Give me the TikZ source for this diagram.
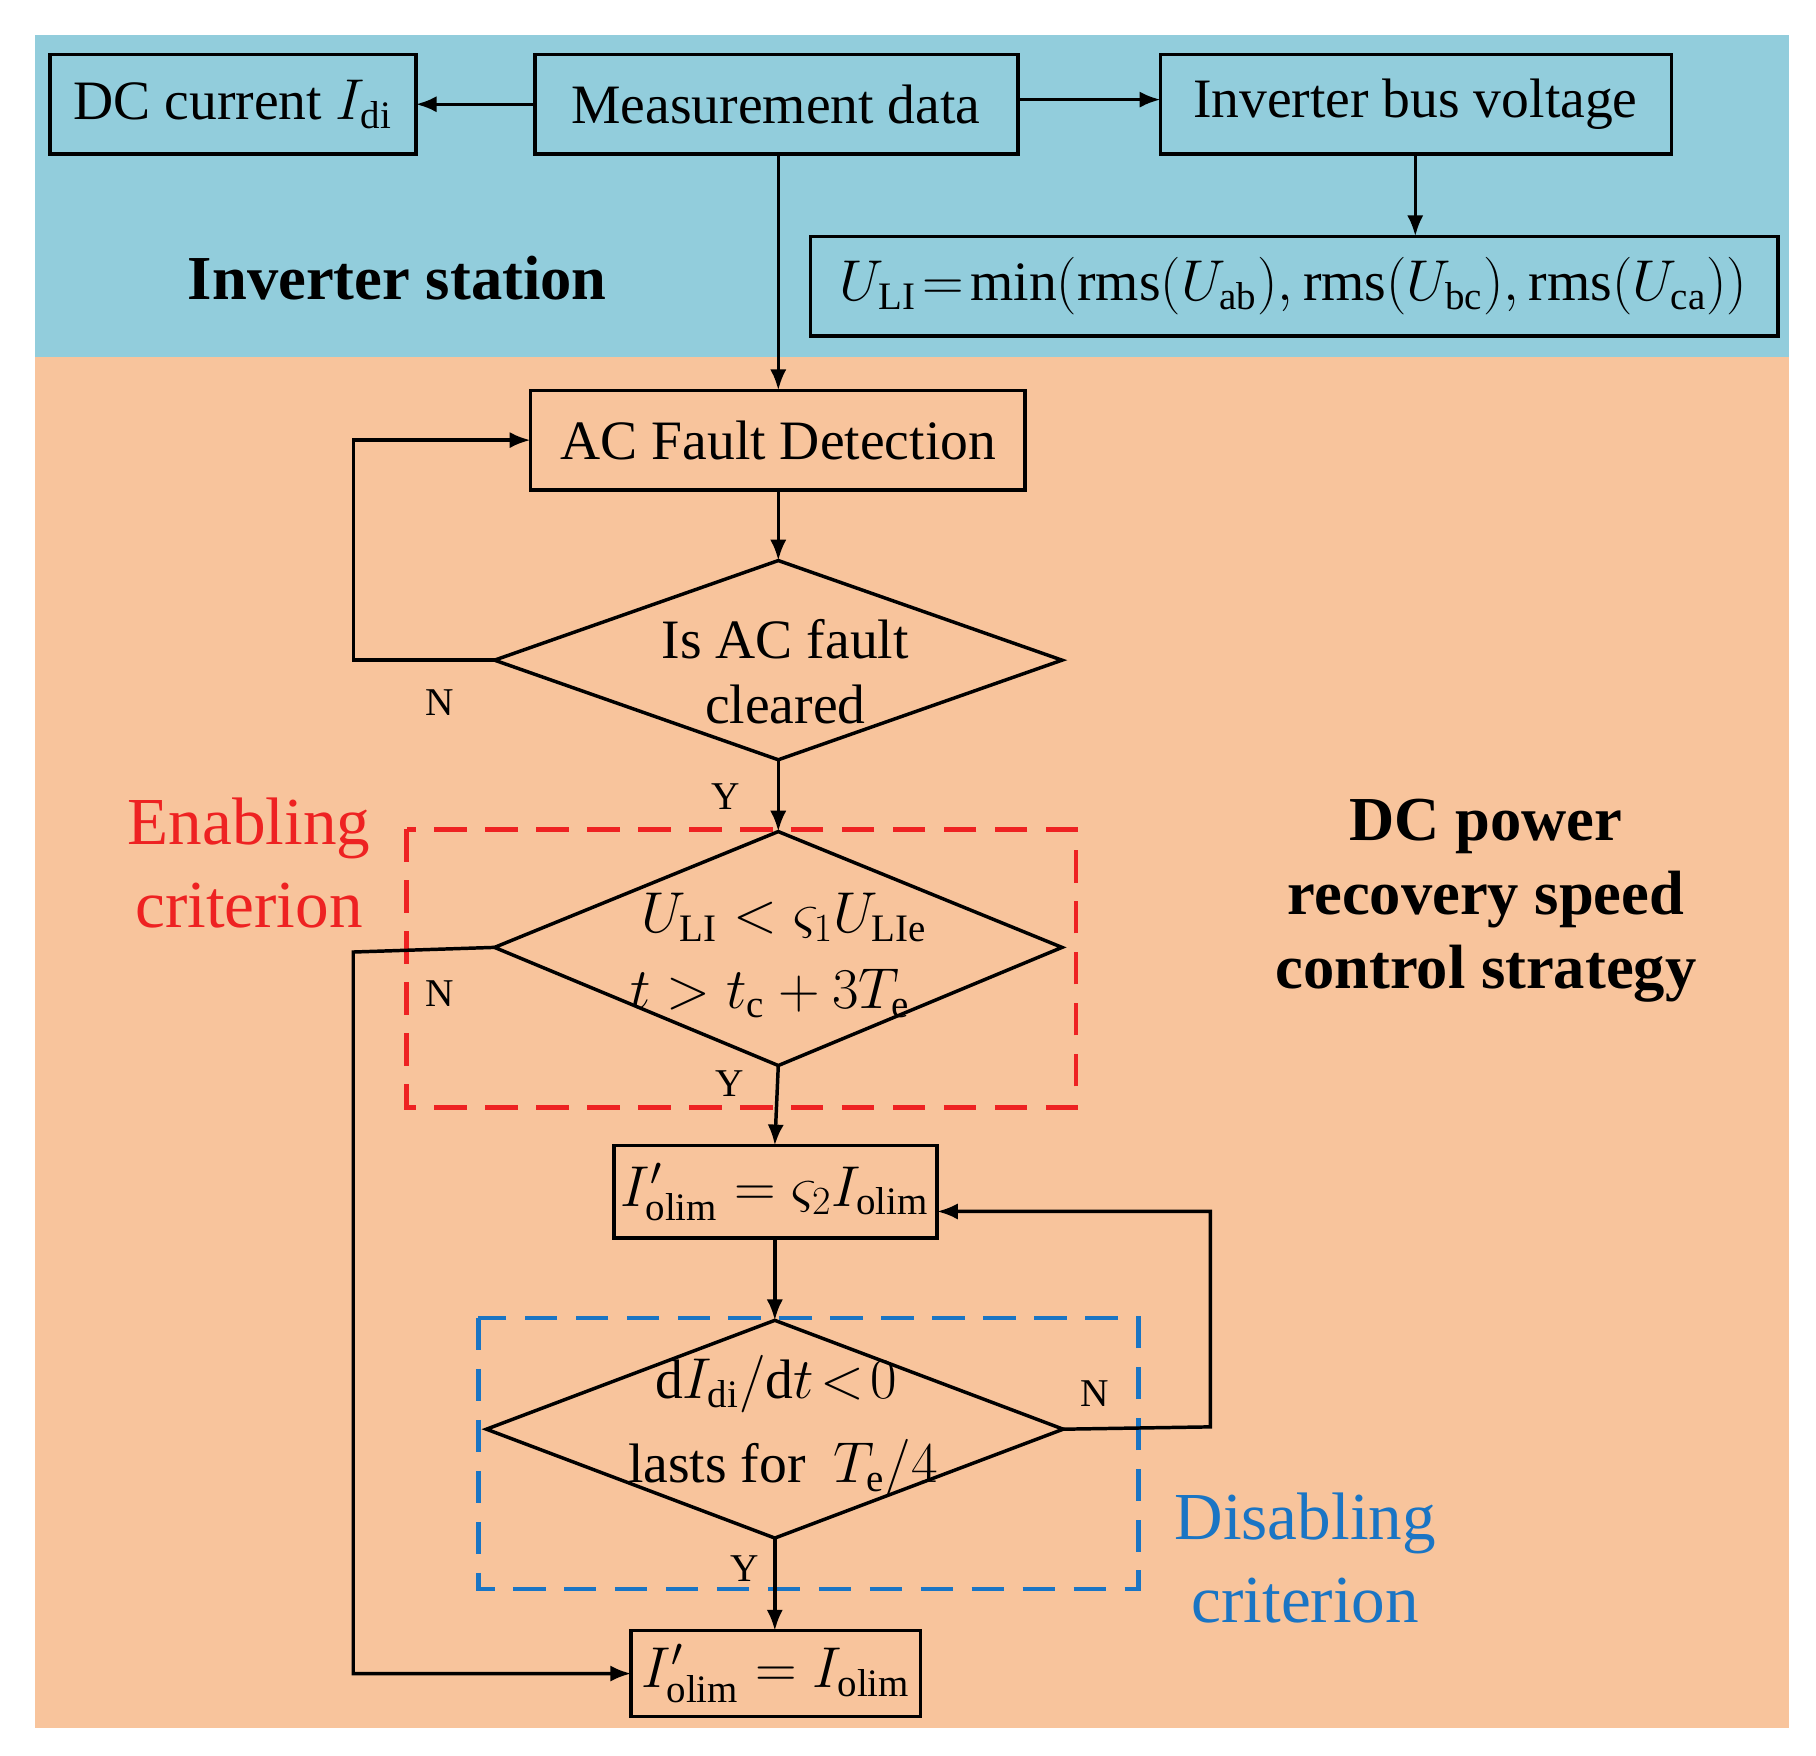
\documentclass[tikz,border=0pt]{standalone}
\usepackage{fontspec}
\setmainfont{Liberation Serif}
\usetikzlibrary{arrows.meta}
\definecolor{bgblue}{HTML}{92CDDC}
\definecolor{bgor}{HTML}{F8C49C}
\definecolor{dred}{HTML}{EE2222}
\definecolor{dblue}{HTML}{1A75C4}
\newcommand{\rmsub}[1]{_{\mathrm{#1}}}
\begin{document}
\begin{tikzpicture}[x=0.5pt,y=-0.5pt,
  box/.style={draw,line width=1.5pt,inner sep=0},
  ln/.style={line width=1.5pt},
  arr/.style={line width=1.5pt,-{Latex[length=9pt,width=7pt]}},
  txt/.style={font=\fontsize{24}{28}\selectfont},
  yn/.style={font=\fontsize{17}{20}\selectfont},
  big/.style={font=\fontsize{27}{32}\selectfont\bfseries,align=center},
  dashbox/.style={line width=2pt,dash pattern=on 14pt off 8pt}]
\useasboundingbox (0,0) rectangle (1568,1516);
\fill[white] (0,0) rectangle (1568,1516);
\fill[bgblue] (30,30) rectangle (1545,308);
\fill[bgor] (30,308) rectangle (1545,1492);
% top boxes
\draw[box] (43,47) rectangle (359,133); \node[txt] (dc) at (201,90) {DC current $I\rmsub{di}$};
\coordinate (dcR) at (359,90);
\draw[box] (462,47) rectangle (879,133); \node[txt] (md) at (670,90) {Measurement data};
\coordinate (mdL) at (462,90); \coordinate (mdR) at (879,86); \coordinate (mdB) at (672,133);
\draw[box] (1002,47) rectangle (1443,133); \node[txt] (ibv) at (1222,90) {Inverter bus voltage};
\coordinate (ibvL) at (1002,86); \coordinate (ibvB) at (1222,133);
\draw[box] (700,204) rectangle (1535,290);
\node[txt] (uli) at (1117,247) {$U\rmsub{LI}\!=\!\min\!\big(\mathrm{rms}\big(U\rmsub{ab}\big),\mathrm{rms}\big(U\rmsub{bc}\big),\mathrm{rms}\big(U\rmsub{ca}\big)\big)$};
\coordinate (uliT) at (1222,204);
\node[big] (is) at (343,240) {Inverter station};
\draw[arr] (mdL) -- (dcR);
\draw[arr] (mdR) -- (ibvL);
\draw[arr] (ibvB) -- (uliT);
% AC fault detection
\draw[box] (458,337) rectangle (885,423); \node[txt] (acf) at (672,380) {AC Fault Detection};
\coordinate (acfT) at (672,337); \coordinate (acfL) at (458,380); \coordinate (acfB) at (672,423);
\draw[arr] (mdB) -- (acfT);
% diamond 1
\coordinate (d1T) at (672,484); \coordinate (d1B) at (672,656);
\coordinate (d1L) at (427,570); \coordinate (d1R) at (917,570);
\draw[ln] (d1T) -- (d1R) -- (d1B) -- (d1L) -- cycle;
\node[txt,align=center] (d1) at (678,580) {Is AC fault\\cleared};
\draw[arr] (acfB) -- (d1T);
\coordinate (c1) at (305,570); \coordinate (c2) at (305,380);
\draw[arr] (d1L) -- (c1) -- (c2) -- (acfL);
\node[yn] (n1) at (380,607) {N};
\node[yn] (y1) at (627,688) {Y};
% diamond 2
\coordinate (d2T) at (672,718); \coordinate (d2B) at (672,920);
\coordinate (d2L) at (427,818); \coordinate (d2R) at (917,818);
\draw[ln] (d2T) -- (d2R) -- (d2B) -- (d2L) -- cycle;
\node[txt] (d2a) at (677,792) {$U\rmsub{LI}<\varsigma_1U\rmsub{LIe}$};
\node[txt] (d2b) at (665,858) {$t>t\rmsub{c}+3T\rmsub{e}$};
\draw[arr] (d1B) -- (d2T);
\draw[dashbox,dred] (351,716) rectangle (929,956);
\node[dred,font=\fontsize{29}{36}\selectfont,align=center] (en) at (215,745) {Enabling\\criterion};
\node[yn] (n2) at (380,858) {N};
\node[yn] (y2) at (630,936) {Y};
% box 3
\draw[box] (530,989) rectangle (809,1069);
\node[txt] (b3) at (669,1029) {$I'\rmsub{olim}=\varsigma_2I\rmsub{olim}$};
\coordinate (b3T) at (669,989); \coordinate (b3R) at (809,1046); \coordinate (b3B) at (669,1069);
\draw[arr] (d2B) -- (b3T);
% diamond 3
\coordinate (d3T) at (669,1140); \coordinate (d3B) at (669,1328);
\coordinate (d3L) at (420,1234); \coordinate (d3R) at (918,1234);
\draw[ln] (d3T) -- (d3R) -- (d3B) -- (d3L) -- cycle;
\node[txt] (d3a) at (670,1195) {$\mathrm{d}I\rmsub{di}/\mathrm{d}t\!<\!0$};
\node[txt] (d3b) at (676,1268) {lasts for~ $T\rmsub{e}/4$};
\draw[arr] (b3B) -- (d3T);
\draw[dashbox,dblue] (413,1138) rectangle (983,1372);
\node[dblue,font=\fontsize{29}{36}\selectfont,align=center] (dis) at (1127,1345) {Disabling\\criterion};
\coordinate (e1) at (1045,1232); \coordinate (e2) at (1045,1046);
\draw[arr] (d3R) -- (e1) -- (e2) -- (b3R);
\node[yn] (n3) at (945,1203) {N};
\node[yn] (y3) at (643,1354) {Y};
% final box
\draw[box] (545,1408) rectangle (795,1482);
\node[txt] (b4) at (670,1445) {$I'\rmsub{olim}=I\rmsub{olim}$};
\coordinate (b4T) at (669,1408); \coordinate (b4L) at (545,1445);
\draw[arr] (d3B) -- (b4T);
\coordinate (f1) at (305,822); \coordinate (f2) at (305,1445);
\draw[arr] (d2L) -- (f1) -- (f2) -- (b4L);
\node[big] (dcp) at (1283,778) {DC power\\recovery speed\\control strategy};
\end{tikzpicture}
\end{document}
